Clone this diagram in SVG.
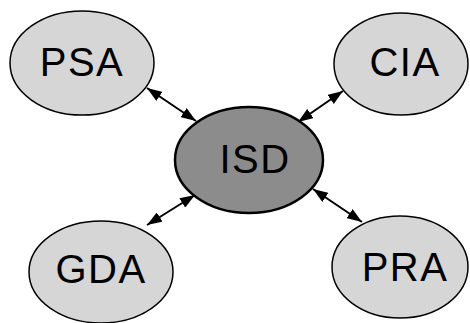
<svg xmlns="http://www.w3.org/2000/svg" width="470" height="323" viewBox="0 0 470 323">
<defs>
<marker id="ah" viewBox="0 0 15 11" refX="15" refY="5.5" markerWidth="15" markerHeight="11" markerUnits="userSpaceOnUse" orient="auto-start-reverse">
<path d="M0,0 L15,5.5 L0,11 Z" fill="#000"/>
</marker>
</defs>
<style>
.outer{fill:#d6d6d6;stroke:#000;stroke-width:1.5}
.center{fill:#8c8c8c;stroke:#000;stroke-width:2.5}
.lbl{font-family:"Liberation Sans",Arial,sans-serif;font-size:40px;letter-spacing:1.5px;text-anchor:middle;fill:#000}
.conn{stroke:#000;stroke-width:2;fill:none;marker-start:url(#ah);marker-end:url(#ah)}
</style>
<rect width="470" height="323" fill="#fff"/>
<g id="connectors">
<line class="conn" x1="147" y1="88" x2="196" y2="121"/>
<line class="conn" x1="343" y1="91" x2="298" y2="122"/>
<line class="conn" x1="147" y1="225" x2="195" y2="195"/>
<line class="conn" x1="313" y1="189" x2="362" y2="222"/>
</g>
<g id="PSA">
<ellipse class="outer" cx="82" cy="63" rx="72" ry="52"/>
<text class="lbl" x="82" y="76">PSA</text>
</g>
<g id="CIA">
<ellipse class="outer" cx="401" cy="64" rx="67" ry="51"/>
<text class="lbl" x="405" y="76">CIA</text>
</g>
<g id="GDA">
<ellipse class="outer" cx="101" cy="272" rx="72" ry="51"/>
<text class="lbl" x="101" y="283">GDA</text>
</g>
<g id="PRA">
<ellipse class="outer" cx="400" cy="267" rx="68" ry="51"/>
<text class="lbl" x="405" y="281">PRA</text>
</g>
<g id="ISD">
<ellipse class="center" cx="249" cy="160" rx="74" ry="53"/>
<text class="lbl" x="255" y="173">ISD</text>
</g>
</svg>
